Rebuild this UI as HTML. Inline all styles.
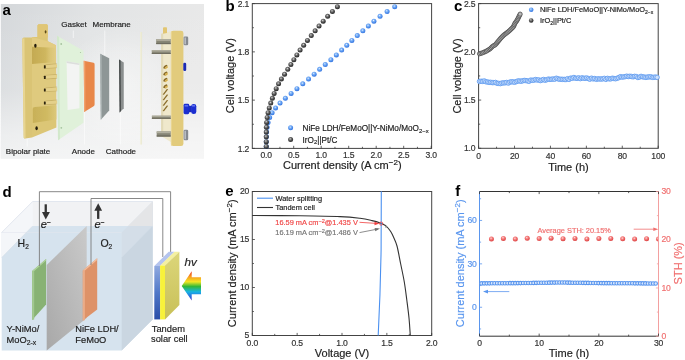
<!DOCTYPE html>
<html><head><meta charset="utf-8"><style>
html,body{margin:0;padding:0;background:#fff;}
body{width:685px;height:360px;overflow:hidden;}
svg{display:block;font-family:"Liberation Sans", sans-serif;will-change:transform;}
</style></head><body>
<svg width="685" height="360" viewBox="0 0 685 360">

<defs>
<clipPath id="clipF"><rect x="479" y="190" width="179" height="147"/></clipPath>
<radialGradient id="gBlue" cx="0.42" cy="0.36" r="0.62">
  <stop offset="0" stop-color="#f0f6ff"/><stop offset="0.25" stop-color="#8cbcf8"/><stop offset="0.6" stop-color="#5a98f0"/><stop offset="1" stop-color="#3676e0"/>
</radialGradient>
<radialGradient id="gGray" cx="0.42" cy="0.36" r="0.62">
  <stop offset="0" stop-color="#e8e8e8"/><stop offset="0.25" stop-color="#8a8a8a"/><stop offset="0.6" stop-color="#4e4e4e"/><stop offset="1" stop-color="#2a2a2a"/>
</radialGradient>
<radialGradient id="gRed" cx="0.42" cy="0.36" r="0.62">
  <stop offset="0" stop-color="#fff0f0"/><stop offset="0.25" stop-color="#f89a9a"/><stop offset="0.6" stop-color="#f06a6a"/><stop offset="1" stop-color="#dc4646"/>
</radialGradient>
<linearGradient id="bgA" x1="0" y1="0" x2="1" y2="0.25">
  <stop offset="0" stop-color="#d4d7da"/><stop offset="0.45" stop-color="#e2e4e5"/><stop offset="1" stop-color="#e9e9e9"/>
</linearGradient>
<radialGradient id="bgR" cx="0.5" cy="0.5" r="0.5">
  <stop offset="0" stop-color="#ffffff" stop-opacity="0.5"/><stop offset="0.6" stop-color="#ffffff" stop-opacity="0.25"/><stop offset="1" stop-color="#ffffff" stop-opacity="0"/>
</radialGradient>
<linearGradient id="bgA2" x1="0" y1="0" x2="0" y2="1">
  <stop offset="0" stop-color="#ffffff" stop-opacity="0"/><stop offset="0.55" stop-color="#ffffff" stop-opacity="0.12"/><stop offset="0.85" stop-color="#ffffff" stop-opacity="0.5"/><stop offset="1" stop-color="#ffffff" stop-opacity="0.6"/>
</linearGradient>
<filter id="soft" x="0" y="0" width="1" height="1"><feGaussianBlur stdDeviation="0.35"/></filter>
<linearGradient id="plUp" x1="0" y1="0" x2="1" y2="0">
  <stop offset="0" stop-color="#c4aa52"/><stop offset="0.55" stop-color="#ceb65e"/><stop offset="0.75" stop-color="#dac474"/><stop offset="1" stop-color="#e2cc84"/>
</linearGradient>
<linearGradient id="plLo" x1="0" y1="0" x2="1" y2="0">
  <stop offset="0" stop-color="#c8b058"/><stop offset="0.6" stop-color="#d0ba62"/><stop offset="1" stop-color="#dcc87a"/>
</linearGradient>
<linearGradient id="memG" x1="1" y1="0" x2="0" y2="1">
  <stop offset="0" stop-color="#cacaca"/><stop offset="1" stop-color="#a8a8a8"/>
</linearGradient>
<linearGradient id="solB" x1="0" y1="0" x2="0" y2="1">
  <stop offset="0" stop-color="#90aae0"/><stop offset="0.5" stop-color="#5078c8"/><stop offset="1" stop-color="#2a4ea8"/>
</linearGradient>
<linearGradient id="solS" x1="0" y1="0" x2="0" y2="1">
  <stop offset="0" stop-color="#dcd67a"/><stop offset="1" stop-color="#c8c058"/>
</linearGradient>
<linearGradient id="rainbow" x1="0" y1="0" x2="0" y2="1">
  <stop offset="0" stop-color="#e82818"/><stop offset="0.18" stop-color="#f89820"/><stop offset="0.36" stop-color="#f2e622"/><stop offset="0.52" stop-color="#30b838"/><stop offset="0.7" stop-color="#18b4e4"/><stop offset="0.86" stop-color="#2a6ee0"/><stop offset="1" stop-color="#4232c0"/>
</linearGradient>
</defs>

<g id="pa" filter="url(#soft)">
<rect x="0.8" y="4" width="203.2" height="154.5" fill="url(#bgA)"/>
<rect x="0.8" y="4" width="203.2" height="154.5" fill="url(#bgA2)"/>
<ellipse cx="122" cy="88" rx="62" ry="60" fill="url(#bgR)"/>
<path d="M22.3,39 Q22.3,37.5 24,37.5 L32,37.5 L32,137.6 L25,138.6 Q23.8,138.6 23.7,137.4 Z" fill="#dac474"/>
<polygon points="22.3,39 24.4,38 25.6,138.4 23.7,137.4" fill="#e8d592"/>
<polygon points="32,37 37.5,37 37.5,25.5 38.5,24.3 47,24.3 47.8,25.5 47.8,41.2 56,45.3 56.4,127.6 32,137.6" fill="#dcc676"/>
<polygon points="32,37 47.8,41.2 56,45.3 56,48 32,46.7" fill="#e3cc82"/>
<polygon points="32,58 56,58 56,105.5 32,107.8" fill="#dfca7e"/>
<polygon points="32,46.7 56,48 56,62 32,64" fill="url(#plUp)"/>
<path d="M32.8,109 Q32.8,107 35,107 L56.4,105.2 L56.4,119.5 L32.8,123 Z" fill="url(#plLo)"/>
<polygon points="37.5,25.5 38.5,24.3 47,24.3 47.8,25.5 47.8,37.5 37.5,37.5" fill="#e0c676"/>
<ellipse cx="45.6" cy="31.8" rx="0.9" ry="1.6" fill="#5a4818"/>
<ellipse cx="35.4" cy="45.8" rx="1.2" ry="2" fill="#241c0a"/>
<ellipse cx="36.6" cy="128.3" rx="1.2" ry="2" fill="#241c0a"/>
<line x1="45.5" y1="64.8" x2="57.5" y2="63.8" stroke="#b49c54" stroke-width="0.5"/>
<line x1="45.5" y1="68.39999999999999" x2="57.5" y2="67.6" stroke="#b49c54" stroke-width="0.5"/>
<polygon points="45.5,65.2 57.5,64.2 57.5,67.2 45.5,68.0" fill="#e4d08a"/>
<rect x="43.9" y="65.2" width="1.8" height="3.2" rx="0.5" fill="#2a200c"/>
<line x1="45.5" y1="75.4" x2="57.5" y2="74.4" stroke="#b49c54" stroke-width="0.5"/>
<line x1="45.5" y1="79.0" x2="57.5" y2="78.2" stroke="#b49c54" stroke-width="0.5"/>
<polygon points="45.5,75.80000000000001 57.5,74.80000000000001 57.5,77.80000000000001 45.5,78.60000000000001" fill="#e4d08a"/>
<rect x="43.9" y="75.80000000000001" width="1.8" height="3.2" rx="0.5" fill="#2a200c"/>
<line x1="45.5" y1="88.0" x2="57.5" y2="87.0" stroke="#b49c54" stroke-width="0.5"/>
<line x1="45.5" y1="91.6" x2="57.5" y2="90.8" stroke="#b49c54" stroke-width="0.5"/>
<polygon points="45.5,88.4 57.5,87.4 57.5,90.4 45.5,91.2" fill="#e4d08a"/>
<rect x="43.9" y="88.4" width="1.8" height="3.2" rx="0.5" fill="#2a200c"/>
<line x1="45.5" y1="101.0" x2="57.5" y2="100.0" stroke="#b49c54" stroke-width="0.5"/>
<line x1="45.5" y1="104.6" x2="57.5" y2="103.8" stroke="#b49c54" stroke-width="0.5"/>
<polygon points="45.5,101.4 57.5,100.4 57.5,103.4 45.5,104.2" fill="#e4d08a"/>
<rect x="43.9" y="101.4" width="1.8" height="3.2" rx="0.5" fill="#2a200c"/>
<polygon points="57,35.8 83.5,50.8 83.5,122.7 58,140.2" fill="#e0f1da"/>
<polygon points="57,35.8 59.2,37 60,139 58,140.2" fill="#d2e8cb"/>
<polygon points="66.6,61.3 79.4,63.5 79.4,108.3 67.6,109.9" fill="#f3f4f3"/>
<polygon points="66.6,61.3 79.4,63.5 79.4,65 66.6,63" fill="#dcdedc"/>
<circle cx="61.2" cy="44" r="0.9" fill="#a6c49e"/>
<circle cx="61.3" cy="127.8" r="0.9" fill="#a6c49e"/>
<circle cx="80.5" cy="52.5" r="0.6" fill="#a6c49e"/>
<path d="M83.75,60.8 L93.6,62.7 Q94.6,63 94.6,64.5 L94.6,104.5 Q94.6,106 93.2,106.6 L84.2,112 Z" fill="#e8874a"/>
<polygon points="83.75,60.8 85.2,61.1 85.4,111.3 84.2,112" fill="#f2a36c"/>
<polygon points="100.2,53.75 109.2,58.3 109.2,110.4 100.8,119.8" fill="#8e9696"/>
<polygon points="100.2,53.75 101.6,54.5 102,118.3 100.8,119.8" fill="#aab2b2"/>
<polygon points="119,59.4 123.75,62.5 123.75,108.3 119.6,112.5" fill="#8a8e8e"/>
<polygon points="119,59.4 120.6,60.4 121,111 119.6,112.5" fill="#4a4e4e"/>
<line x1="141" y1="32" x2="141" y2="144.4" stroke="#f2efd2" stroke-width="1.3"/>
<line x1="141.6" y1="32" x2="141.6" y2="144.4" stroke="#e4e2c4" stroke-width="0.4"/>
<polygon points="161.1,33.8 170.8,31.2 170.8,142 161.1,136" fill="#efe8cc"/>
<polygon points="161.1,33.8 163.2,33.3 163.2,137.3 161.1,136" fill="#e2dab8"/>
<path d="M163,28 Q163,27.3 164,27.3 L166.3,27.3 Q167,27.3 167,28.2 L167,33 L163,33.8 Z" fill="#e2c672"/>
<rect x="170.9" y="30.7" width="12.5" height="115.4" rx="2.4" fill="#e2cb7c"/>
<rect x="170.9" y="31.5" width="1.1" height="114" fill="#e9d592"/>
<path d="M163.2,68.3 Q163.5,65.3 166.8,64.7 L167.6,65.9 Q165,66.3 164.8,68.7 Z" fill="#8a6c2a"/>
<path d="M164.8,68.7 Q165,66.3 167.6,65.9 L167.8,67.7 Q166.2,67.8 166,69.3 Z" fill="#d8b048"/>
<path d="M163.2,75.0 Q163.5,72.0 166.8,71.4 L167.6,72.60000000000001 Q165,73.0 164.8,75.4 Z" fill="#8a6c2a"/>
<path d="M164.8,75.4 Q165,73.0 167.6,72.60000000000001 L167.8,74.4 Q166.2,74.5 166,76.0 Z" fill="#d8b048"/>
<path d="M163.2,81.3 Q163.5,78.3 166.8,77.7 L167.6,78.9 Q165,79.3 164.8,81.7 Z" fill="#8a6c2a"/>
<path d="M164.8,81.7 Q165,79.3 167.6,78.9 L167.8,80.7 Q166.2,80.8 166,82.3 Z" fill="#d8b048"/>
<path d="M163.2,87.8 Q163.5,84.8 166.8,84.2 L167.6,85.4 Q165,85.8 164.8,88.2 Z" fill="#8a6c2a"/>
<path d="M164.8,88.2 Q165,85.8 167.6,85.4 L167.8,87.2 Q166.2,87.3 166,88.8 Z" fill="#d8b048"/>
<polygon points="162.6,94.5 166.8,89.0 168.2,89.3 164,94.8" fill="#8a6c2a"/>
<polygon points="162.6,100 166.8,94.5 168.2,94.8 164,100.3" fill="#8a6c2a"/>
<polygon points="162.6,105.5 166.8,100.0 168.2,100.3 164,105.8" fill="#8a6c2a"/>
<polygon points="162.6,111 166.8,105.5 168.2,105.8 164,111.3" fill="#8a6c2a"/>
<rect x="156.2" y="39.1" width="14.5" height="5.0" fill="#878676"/>
<rect x="156.2" y="39.1" width="14.5" height="1.75" fill="#b2b0a0"/>
<rect x="156.2" y="42.85" width="14.5" height="1.25" fill="#6e6c5e"/>
<rect x="151.8" y="50.2" width="18.899999999999977" height="3.8" fill="#878676"/>
<rect x="151.8" y="50.2" width="18.899999999999977" height="1.33" fill="#b2b0a0"/>
<rect x="151.8" y="53.05" width="18.899999999999977" height="0.95" fill="#6e6c5e"/>
<rect x="151.9" y="115.7" width="18.799999999999983" height="3.2" fill="#878676"/>
<rect x="151.9" y="115.7" width="18.799999999999983" height="1.12" fill="#b2b0a0"/>
<rect x="151.9" y="118.10" width="18.799999999999983" height="0.80" fill="#6e6c5e"/>
<rect x="156.7" y="131.4" width="14.0" height="5.2" fill="#878676"/>
<rect x="156.7" y="131.4" width="14.0" height="1.82" fill="#b2b0a0"/>
<rect x="156.7" y="135.30" width="14.0" height="1.30" fill="#6e6c5e"/>
<rect x="183.6" y="36.5" width="4.6" height="8.700000000000003" rx="1.3" fill="#868a90"/>
<rect x="184.4" y="37.5" width="1.6" height="6.700000000000003" fill="#b8bcc2"/>
<rect x="183.6" y="129.8" width="4.6" height="10.399999999999977" rx="1.3" fill="#868a90"/>
<rect x="184.4" y="130.8" width="1.6" height="8.399999999999977" fill="#b8bcc2"/>
<rect x="183.3" y="62.8" width="2.9" height="8.2" rx="1.3" fill="#1c2cb4"/>
<rect x="183.6" y="103.75" width="5.6" height="10.45" rx="1.4" fill="#1a2fd0"/>
<rect x="188.8" y="105.8" width="3" height="6.4" fill="#1a2cc0"/>
<rect x="191.2" y="103.9" width="5.1" height="10.2" rx="2.4" fill="#1a2fd0"/>
<rect x="184.6" y="105" width="3.5" height="1.6" fill="#5a6cf0"/>
<rect x="192" y="105" width="3" height="1.6" fill="#5a6cf0"/>
<line x1="73.3" y1="30.5" x2="73.3" y2="38" stroke="#ffffff" stroke-width="0.6"/>
<line x1="104.8" y1="30.5" x2="104.8" y2="55" stroke="#ffffff" stroke-width="0.6"/>
<line x1="27.2" y1="139" x2="27.2" y2="146.5" stroke="#ffffff" stroke-width="0.6"/>
<line x1="84.4" y1="112" x2="84.4" y2="144.5" stroke="#ffffff" stroke-width="0.6"/>
<line x1="120.3" y1="113" x2="120.3" y2="144.5" stroke="#ffffff" stroke-width="0.6"/>
</g><g>
<text x="61.3" y="27.2" font-size="8" fill="#222" text-anchor="start" font-weight="normal" stroke="#222" stroke-width="0.18"  style="">Gasket</text>
<text x="92.5" y="27.2" font-size="8" fill="#222" text-anchor="start" font-weight="normal" stroke="#222" stroke-width="0.18"  style="">Membrane</text>
<text x="5.8" y="153.8" font-size="8" fill="#222" text-anchor="start" font-weight="normal" stroke="#222" stroke-width="0.18"  style="">Bipolar plate</text>
<text x="71.8" y="153.8" font-size="8" fill="#222" text-anchor="start" font-weight="normal" stroke="#222" stroke-width="0.18"  style="">Anode</text>
<text x="105.8" y="153.8" font-size="8" fill="#222" text-anchor="start" font-weight="normal" stroke="#222" stroke-width="0.18"  style="">Cathode</text>
</g>
<rect x="252.3" y="3.6" width="179.3" height="144.8" fill="none" stroke="#444" stroke-width="1"/>
<line x1="266.20" y1="148.4" x2="266.20" y2="145.8" stroke="#3a3a3a" stroke-width="0.8"/>
<line x1="279.95" y1="148.4" x2="279.95" y2="146.8" stroke="#3a3a3a" stroke-width="0.8"/>
<line x1="293.70" y1="148.4" x2="293.70" y2="145.8" stroke="#3a3a3a" stroke-width="0.8"/>
<line x1="307.45" y1="148.4" x2="307.45" y2="146.8" stroke="#3a3a3a" stroke-width="0.8"/>
<line x1="321.20" y1="148.4" x2="321.20" y2="145.8" stroke="#3a3a3a" stroke-width="0.8"/>
<line x1="334.95" y1="148.4" x2="334.95" y2="146.8" stroke="#3a3a3a" stroke-width="0.8"/>
<line x1="348.70" y1="148.4" x2="348.70" y2="145.8" stroke="#3a3a3a" stroke-width="0.8"/>
<line x1="362.45" y1="148.4" x2="362.45" y2="146.8" stroke="#3a3a3a" stroke-width="0.8"/>
<line x1="376.20" y1="148.4" x2="376.20" y2="145.8" stroke="#3a3a3a" stroke-width="0.8"/>
<line x1="389.95" y1="148.4" x2="389.95" y2="146.8" stroke="#3a3a3a" stroke-width="0.8"/>
<line x1="403.70" y1="148.4" x2="403.70" y2="145.8" stroke="#3a3a3a" stroke-width="0.8"/>
<line x1="417.45" y1="148.4" x2="417.45" y2="146.8" stroke="#3a3a3a" stroke-width="0.8"/>
<line x1="431.20" y1="148.4" x2="431.20" y2="145.8" stroke="#3a3a3a" stroke-width="0.8"/>
<line x1="252.3" y1="148.40" x2="254.9" y2="148.40" stroke="#3a3a3a" stroke-width="0.8"/>
<line x1="252.3" y1="124.27" x2="253.9" y2="124.27" stroke="#3a3a3a" stroke-width="0.8"/>
<line x1="252.3" y1="100.13" x2="254.9" y2="100.13" stroke="#3a3a3a" stroke-width="0.8"/>
<line x1="252.3" y1="76.00" x2="253.9" y2="76.00" stroke="#3a3a3a" stroke-width="0.8"/>
<line x1="252.3" y1="51.87" x2="254.9" y2="51.87" stroke="#3a3a3a" stroke-width="0.8"/>
<line x1="252.3" y1="27.73" x2="253.9" y2="27.73" stroke="#3a3a3a" stroke-width="0.8"/>
<line x1="252.3" y1="3.60" x2="254.9" y2="3.60" stroke="#3a3a3a" stroke-width="0.8"/>
<text x="266.20" y="158" font-size="8.6" fill="#333" text-anchor="middle" font-weight="normal" stroke="#333" stroke-width="0.18"  style="letter-spacing:-0.2px">0.0</text>
<text x="293.70" y="158" font-size="8.6" fill="#333" text-anchor="middle" font-weight="normal" stroke="#333" stroke-width="0.18"  style="letter-spacing:-0.2px">0.5</text>
<text x="321.20" y="158" font-size="8.6" fill="#333" text-anchor="middle" font-weight="normal" stroke="#333" stroke-width="0.18"  style="letter-spacing:-0.2px">1.0</text>
<text x="348.70" y="158" font-size="8.6" fill="#333" text-anchor="middle" font-weight="normal" stroke="#333" stroke-width="0.18"  style="letter-spacing:-0.2px">1.5</text>
<text x="376.20" y="158" font-size="8.6" fill="#333" text-anchor="middle" font-weight="normal" stroke="#333" stroke-width="0.18"  style="letter-spacing:-0.2px">2.0</text>
<text x="403.70" y="158" font-size="8.6" fill="#333" text-anchor="middle" font-weight="normal" stroke="#333" stroke-width="0.18"  style="letter-spacing:-0.2px">2.5</text>
<text x="431.20" y="158" font-size="8.6" fill="#333" text-anchor="middle" font-weight="normal" stroke="#333" stroke-width="0.18"  style="letter-spacing:-0.2px">3.0</text>
<text x="249.2" y="151.50" font-size="8.6" fill="#333" text-anchor="end" font-weight="normal" stroke="#333" stroke-width="0.18"  style="letter-spacing:-0.2px">1.2</text>
<text x="249.2" y="103.23" font-size="8.6" fill="#333" text-anchor="end" font-weight="normal" stroke="#333" stroke-width="0.18"  style="letter-spacing:-0.2px">1.5</text>
<text x="249.2" y="54.97" font-size="8.6" fill="#333" text-anchor="end" font-weight="normal" stroke="#333" stroke-width="0.18"  style="letter-spacing:-0.2px">1.8</text>
<text x="249.2" y="6.70" font-size="8.6" fill="#333" text-anchor="end" font-weight="normal" stroke="#333" stroke-width="0.18"  style="letter-spacing:-0.2px">2.1</text>
<text x="342.3" y="169.4" font-size="11" fill="#222" text-anchor="middle" font-weight="normal" stroke="#222" stroke-width="0.18"  style="">Current density (A cm<tspan dy="-4.3" font-size="8">−2</tspan><tspan dy="4.3">)</tspan></text>
<g transform="translate(234.3,75.6) rotate(-90)"><text x="0" y="0" font-size="11" fill="#222" text-anchor="middle" font-weight="normal" stroke="#222" stroke-width="0.18"  style="">Cell voltage (V)</text></g>
<circle cx="394.70" cy="6.70" r="2.5" fill="url(#gBlue)"/>
<circle cx="387.10" cy="11.52" r="2.5" fill="url(#gBlue)"/>
<circle cx="380.06" cy="16.34" r="2.5" fill="url(#gBlue)"/>
<circle cx="373.93" cy="21.16" r="2.5" fill="url(#gBlue)"/>
<circle cx="368.37" cy="25.98" r="2.5" fill="url(#gBlue)"/>
<circle cx="362.85" cy="30.80" r="2.5" fill="url(#gBlue)"/>
<circle cx="357.26" cy="35.62" r="2.5" fill="url(#gBlue)"/>
<circle cx="351.87" cy="40.44" r="2.5" fill="url(#gBlue)"/>
<circle cx="346.76" cy="45.26" r="2.5" fill="url(#gBlue)"/>
<circle cx="341.65" cy="50.08" r="2.5" fill="url(#gBlue)"/>
<circle cx="336.34" cy="54.90" r="2.5" fill="url(#gBlue)"/>
<circle cx="330.88" cy="59.72" r="2.5" fill="url(#gBlue)"/>
<circle cx="325.26" cy="64.54" r="2.5" fill="url(#gBlue)"/>
<circle cx="319.66" cy="69.36" r="2.5" fill="url(#gBlue)"/>
<circle cx="314.16" cy="74.18" r="2.5" fill="url(#gBlue)"/>
<circle cx="308.55" cy="79.00" r="2.5" fill="url(#gBlue)"/>
<circle cx="302.76" cy="83.82" r="2.5" fill="url(#gBlue)"/>
<circle cx="296.94" cy="88.64" r="2.5" fill="url(#gBlue)"/>
<circle cx="291.12" cy="93.46" r="2.5" fill="url(#gBlue)"/>
<circle cx="285.35" cy="98.28" r="2.5" fill="url(#gBlue)"/>
<circle cx="280.04" cy="103.10" r="2.5" fill="url(#gBlue)"/>
<circle cx="275.58" cy="107.92" r="2.5" fill="url(#gBlue)"/>
<circle cx="272.11" cy="112.74" r="2.5" fill="url(#gBlue)"/>
<circle cx="269.63" cy="117.56" r="2.5" fill="url(#gBlue)"/>
<circle cx="268.05" cy="122.38" r="2.5" fill="url(#gBlue)"/>
<circle cx="267.13" cy="127.20" r="2.5" fill="url(#gBlue)"/>
<circle cx="266.62" cy="132.02" r="2.5" fill="url(#gBlue)"/>
<circle cx="266.38" cy="136.84" r="2.5" fill="url(#gBlue)"/>
<circle cx="266.27" cy="141.66" r="2.5" fill="url(#gBlue)"/>
<circle cx="266.21" cy="146.48" r="2.5" fill="url(#gBlue)"/>
<circle cx="337.40" cy="6.70" r="2.5" fill="url(#gGray)"/>
<circle cx="332.41" cy="11.52" r="2.5" fill="url(#gGray)"/>
<circle cx="327.66" cy="16.34" r="2.5" fill="url(#gGray)"/>
<circle cx="323.19" cy="21.16" r="2.5" fill="url(#gGray)"/>
<circle cx="319.05" cy="25.98" r="2.5" fill="url(#gGray)"/>
<circle cx="315.14" cy="30.80" r="2.5" fill="url(#gGray)"/>
<circle cx="311.27" cy="35.62" r="2.5" fill="url(#gGray)"/>
<circle cx="307.43" cy="40.44" r="2.5" fill="url(#gGray)"/>
<circle cx="303.68" cy="45.26" r="2.5" fill="url(#gGray)"/>
<circle cx="300.09" cy="50.08" r="2.5" fill="url(#gGray)"/>
<circle cx="296.85" cy="54.90" r="2.5" fill="url(#gGray)"/>
<circle cx="293.87" cy="59.72" r="2.5" fill="url(#gGray)"/>
<circle cx="290.87" cy="64.54" r="2.5" fill="url(#gGray)"/>
<circle cx="287.76" cy="69.36" r="2.5" fill="url(#gGray)"/>
<circle cx="284.54" cy="74.18" r="2.5" fill="url(#gGray)"/>
<circle cx="281.38" cy="79.00" r="2.5" fill="url(#gGray)"/>
<circle cx="278.57" cy="83.82" r="2.5" fill="url(#gGray)"/>
<circle cx="276.20" cy="88.64" r="2.5" fill="url(#gGray)"/>
<circle cx="274.15" cy="93.46" r="2.5" fill="url(#gGray)"/>
<circle cx="272.37" cy="98.28" r="2.5" fill="url(#gGray)"/>
<circle cx="270.74" cy="103.10" r="2.5" fill="url(#gGray)"/>
<circle cx="269.26" cy="107.92" r="2.5" fill="url(#gGray)"/>
<circle cx="268.05" cy="112.74" r="2.5" fill="url(#gGray)"/>
<circle cx="267.16" cy="117.56" r="2.5" fill="url(#gGray)"/>
<circle cx="266.61" cy="122.38" r="2.5" fill="url(#gGray)"/>
<circle cx="266.35" cy="127.20" r="2.5" fill="url(#gGray)"/>
<circle cx="266.26" cy="132.02" r="2.5" fill="url(#gGray)"/>
<circle cx="266.25" cy="136.84" r="2.5" fill="url(#gGray)"/>
<circle cx="266.25" cy="141.66" r="2.5" fill="url(#gGray)"/>
<circle cx="266.25" cy="146.48" r="2.5" fill="url(#gGray)"/>
<circle cx="290.6" cy="127.8" r="2.5" fill="url(#gBlue)"/>
<circle cx="290.6" cy="139.6" r="2.5" fill="url(#gGray)"/>
<text x="302.6" y="130.8" font-size="8.2" fill="#222" text-anchor="start" font-weight="normal" stroke="#222" stroke-width="0.18"  style="">NiFe LDH/FeMoO||Y-NiMo/MoO<tspan dy="1.8" font-size="5.9">2−x</tspan></text>
<text x="302.6" y="142.5" font-size="8.2" fill="#222" text-anchor="start" font-weight="normal" stroke="#222" stroke-width="0.18"  style="">IrO<tspan dy="1.8" font-size="5.9">2</tspan><tspan dy="-1.8">||Pt/C</tspan></text>
<rect x="478.6" y="3.6" width="179.60000000000002" height="144.70000000000002" fill="none" stroke="#444" stroke-width="1"/>
<line x1="478.60" y1="148.3" x2="478.60" y2="145.70000000000002" stroke="#3a3a3a" stroke-width="0.8"/>
<line x1="496.56" y1="148.3" x2="496.56" y2="146.70000000000002" stroke="#3a3a3a" stroke-width="0.8"/>
<line x1="514.52" y1="148.3" x2="514.52" y2="145.70000000000002" stroke="#3a3a3a" stroke-width="0.8"/>
<line x1="532.48" y1="148.3" x2="532.48" y2="146.70000000000002" stroke="#3a3a3a" stroke-width="0.8"/>
<line x1="550.44" y1="148.3" x2="550.44" y2="145.70000000000002" stroke="#3a3a3a" stroke-width="0.8"/>
<line x1="568.40" y1="148.3" x2="568.40" y2="146.70000000000002" stroke="#3a3a3a" stroke-width="0.8"/>
<line x1="586.36" y1="148.3" x2="586.36" y2="145.70000000000002" stroke="#3a3a3a" stroke-width="0.8"/>
<line x1="604.32" y1="148.3" x2="604.32" y2="146.70000000000002" stroke="#3a3a3a" stroke-width="0.8"/>
<line x1="622.28" y1="148.3" x2="622.28" y2="145.70000000000002" stroke="#3a3a3a" stroke-width="0.8"/>
<line x1="640.24" y1="148.3" x2="640.24" y2="146.70000000000002" stroke="#3a3a3a" stroke-width="0.8"/>
<line x1="658.20" y1="148.3" x2="658.20" y2="145.70000000000002" stroke="#3a3a3a" stroke-width="0.8"/>
<line x1="478.6" y1="148.30" x2="481.20000000000005" y2="148.30" stroke="#3a3a3a" stroke-width="0.8"/>
<line x1="478.6" y1="124.18" x2="480.20000000000005" y2="124.18" stroke="#3a3a3a" stroke-width="0.8"/>
<line x1="478.6" y1="100.07" x2="481.20000000000005" y2="100.07" stroke="#3a3a3a" stroke-width="0.8"/>
<line x1="478.6" y1="75.95" x2="480.20000000000005" y2="75.95" stroke="#3a3a3a" stroke-width="0.8"/>
<line x1="478.6" y1="51.83" x2="481.20000000000005" y2="51.83" stroke="#3a3a3a" stroke-width="0.8"/>
<line x1="478.6" y1="27.72" x2="480.20000000000005" y2="27.72" stroke="#3a3a3a" stroke-width="0.8"/>
<line x1="478.6" y1="3.60" x2="481.20000000000005" y2="3.60" stroke="#3a3a3a" stroke-width="0.8"/>
<text x="478.60" y="158.6" font-size="8.6" fill="#333" text-anchor="middle" font-weight="normal" stroke="#333" stroke-width="0.18"  style="letter-spacing:-0.2px">0</text>
<text x="514.52" y="158.6" font-size="8.6" fill="#333" text-anchor="middle" font-weight="normal" stroke="#333" stroke-width="0.18"  style="letter-spacing:-0.2px">20</text>
<text x="550.44" y="158.6" font-size="8.6" fill="#333" text-anchor="middle" font-weight="normal" stroke="#333" stroke-width="0.18"  style="letter-spacing:-0.2px">40</text>
<text x="586.36" y="158.6" font-size="8.6" fill="#333" text-anchor="middle" font-weight="normal" stroke="#333" stroke-width="0.18"  style="letter-spacing:-0.2px">60</text>
<text x="622.28" y="158.6" font-size="8.6" fill="#333" text-anchor="middle" font-weight="normal" stroke="#333" stroke-width="0.18"  style="letter-spacing:-0.2px">80</text>
<text x="658.20" y="158.6" font-size="8.6" fill="#333" text-anchor="middle" font-weight="normal" stroke="#333" stroke-width="0.18"  style="letter-spacing:-0.2px">100</text>
<text x="475.3" y="151.40" font-size="8.6" fill="#333" text-anchor="end" font-weight="normal" stroke="#333" stroke-width="0.18"  style="letter-spacing:-0.2px">1.0</text>
<text x="475.3" y="103.17" font-size="8.6" fill="#333" text-anchor="end" font-weight="normal" stroke="#333" stroke-width="0.18"  style="letter-spacing:-0.2px">1.5</text>
<text x="475.3" y="54.93" font-size="8.6" fill="#333" text-anchor="end" font-weight="normal" stroke="#333" stroke-width="0.18"  style="letter-spacing:-0.2px">2.0</text>
<text x="475.3" y="6.70" font-size="8.6" fill="#333" text-anchor="end" font-weight="normal" stroke="#333" stroke-width="0.18"  style="letter-spacing:-0.2px">2.5</text>
<text x="568.4" y="170.6" font-size="11" fill="#222" text-anchor="middle" font-weight="normal" stroke="#222" stroke-width="0.18"  style="">Time (h)</text>
<g transform="translate(460.5,76) rotate(-90)"><text x="0" y="0" font-size="11" fill="#222" text-anchor="middle" font-weight="normal" stroke="#222" stroke-width="0.18"  style="">Cell voltage (V)</text></g>
<circle cx="479.50" cy="81.44" r="2.25" fill="#cde0fb" stroke="#649ef0" stroke-width="0.9"/>
<circle cx="481.10" cy="81.23" r="2.25" fill="#cde0fb" stroke="#649ef0" stroke-width="0.9"/>
<circle cx="482.70" cy="81.38" r="2.25" fill="#cde0fb" stroke="#649ef0" stroke-width="0.9"/>
<circle cx="484.30" cy="80.96" r="2.25" fill="#cde0fb" stroke="#649ef0" stroke-width="0.9"/>
<circle cx="485.90" cy="81.77" r="2.25" fill="#cde0fb" stroke="#649ef0" stroke-width="0.9"/>
<circle cx="487.50" cy="82.01" r="2.25" fill="#cde0fb" stroke="#649ef0" stroke-width="0.9"/>
<circle cx="489.10" cy="82.37" r="2.25" fill="#cde0fb" stroke="#649ef0" stroke-width="0.9"/>
<circle cx="490.70" cy="82.30" r="2.25" fill="#cde0fb" stroke="#649ef0" stroke-width="0.9"/>
<circle cx="492.30" cy="82.62" r="2.25" fill="#cde0fb" stroke="#649ef0" stroke-width="0.9"/>
<circle cx="493.90" cy="82.59" r="2.25" fill="#cde0fb" stroke="#649ef0" stroke-width="0.9"/>
<circle cx="495.50" cy="82.41" r="2.25" fill="#cde0fb" stroke="#649ef0" stroke-width="0.9"/>
<circle cx="497.10" cy="83.30" r="2.25" fill="#cde0fb" stroke="#649ef0" stroke-width="0.9"/>
<circle cx="498.70" cy="83.35" r="2.25" fill="#cde0fb" stroke="#649ef0" stroke-width="0.9"/>
<circle cx="500.30" cy="83.63" r="2.25" fill="#cde0fb" stroke="#649ef0" stroke-width="0.9"/>
<circle cx="501.90" cy="83.04" r="2.25" fill="#cde0fb" stroke="#649ef0" stroke-width="0.9"/>
<circle cx="503.50" cy="82.88" r="2.25" fill="#cde0fb" stroke="#649ef0" stroke-width="0.9"/>
<circle cx="505.10" cy="82.82" r="2.25" fill="#cde0fb" stroke="#649ef0" stroke-width="0.9"/>
<circle cx="506.70" cy="82.44" r="2.25" fill="#cde0fb" stroke="#649ef0" stroke-width="0.9"/>
<circle cx="508.30" cy="83.07" r="2.25" fill="#cde0fb" stroke="#649ef0" stroke-width="0.9"/>
<circle cx="509.90" cy="82.09" r="2.25" fill="#cde0fb" stroke="#649ef0" stroke-width="0.9"/>
<circle cx="511.50" cy="81.81" r="2.25" fill="#cde0fb" stroke="#649ef0" stroke-width="0.9"/>
<circle cx="513.10" cy="81.89" r="2.25" fill="#cde0fb" stroke="#649ef0" stroke-width="0.9"/>
<circle cx="514.70" cy="82.23" r="2.25" fill="#cde0fb" stroke="#649ef0" stroke-width="0.9"/>
<circle cx="516.30" cy="81.59" r="2.25" fill="#cde0fb" stroke="#649ef0" stroke-width="0.9"/>
<circle cx="517.90" cy="80.99" r="2.25" fill="#cde0fb" stroke="#649ef0" stroke-width="0.9"/>
<circle cx="519.50" cy="80.93" r="2.25" fill="#cde0fb" stroke="#649ef0" stroke-width="0.9"/>
<circle cx="521.10" cy="81.24" r="2.25" fill="#cde0fb" stroke="#649ef0" stroke-width="0.9"/>
<circle cx="522.70" cy="80.80" r="2.25" fill="#cde0fb" stroke="#649ef0" stroke-width="0.9"/>
<circle cx="524.30" cy="80.43" r="2.25" fill="#cde0fb" stroke="#649ef0" stroke-width="0.9"/>
<circle cx="525.90" cy="80.58" r="2.25" fill="#cde0fb" stroke="#649ef0" stroke-width="0.9"/>
<circle cx="527.50" cy="80.88" r="2.25" fill="#cde0fb" stroke="#649ef0" stroke-width="0.9"/>
<circle cx="529.10" cy="81.28" r="2.25" fill="#cde0fb" stroke="#649ef0" stroke-width="0.9"/>
<circle cx="530.70" cy="80.12" r="2.25" fill="#cde0fb" stroke="#649ef0" stroke-width="0.9"/>
<circle cx="532.30" cy="80.29" r="2.25" fill="#cde0fb" stroke="#649ef0" stroke-width="0.9"/>
<circle cx="533.90" cy="80.18" r="2.25" fill="#cde0fb" stroke="#649ef0" stroke-width="0.9"/>
<circle cx="535.50" cy="79.55" r="2.25" fill="#cde0fb" stroke="#649ef0" stroke-width="0.9"/>
<circle cx="537.10" cy="80.00" r="2.25" fill="#cde0fb" stroke="#649ef0" stroke-width="0.9"/>
<circle cx="538.70" cy="79.90" r="2.25" fill="#cde0fb" stroke="#649ef0" stroke-width="0.9"/>
<circle cx="540.30" cy="80.59" r="2.25" fill="#cde0fb" stroke="#649ef0" stroke-width="0.9"/>
<circle cx="541.90" cy="80.08" r="2.25" fill="#cde0fb" stroke="#649ef0" stroke-width="0.9"/>
<circle cx="543.50" cy="79.49" r="2.25" fill="#cde0fb" stroke="#649ef0" stroke-width="0.9"/>
<circle cx="545.10" cy="80.22" r="2.25" fill="#cde0fb" stroke="#649ef0" stroke-width="0.9"/>
<circle cx="546.70" cy="79.73" r="2.25" fill="#cde0fb" stroke="#649ef0" stroke-width="0.9"/>
<circle cx="548.30" cy="79.11" r="2.25" fill="#cde0fb" stroke="#649ef0" stroke-width="0.9"/>
<circle cx="549.90" cy="79.38" r="2.25" fill="#cde0fb" stroke="#649ef0" stroke-width="0.9"/>
<circle cx="551.50" cy="79.24" r="2.25" fill="#cde0fb" stroke="#649ef0" stroke-width="0.9"/>
<circle cx="553.10" cy="79.01" r="2.25" fill="#cde0fb" stroke="#649ef0" stroke-width="0.9"/>
<circle cx="554.70" cy="79.19" r="2.25" fill="#cde0fb" stroke="#649ef0" stroke-width="0.9"/>
<circle cx="556.30" cy="78.26" r="2.25" fill="#cde0fb" stroke="#649ef0" stroke-width="0.9"/>
<circle cx="557.90" cy="78.81" r="2.25" fill="#cde0fb" stroke="#649ef0" stroke-width="0.9"/>
<circle cx="559.50" cy="79.28" r="2.25" fill="#cde0fb" stroke="#649ef0" stroke-width="0.9"/>
<circle cx="561.10" cy="79.25" r="2.25" fill="#cde0fb" stroke="#649ef0" stroke-width="0.9"/>
<circle cx="562.70" cy="79.37" r="2.25" fill="#cde0fb" stroke="#649ef0" stroke-width="0.9"/>
<circle cx="564.30" cy="79.41" r="2.25" fill="#cde0fb" stroke="#649ef0" stroke-width="0.9"/>
<circle cx="565.90" cy="79.56" r="2.25" fill="#cde0fb" stroke="#649ef0" stroke-width="0.9"/>
<circle cx="567.50" cy="78.68" r="2.25" fill="#cde0fb" stroke="#649ef0" stroke-width="0.9"/>
<circle cx="569.10" cy="79.38" r="2.25" fill="#cde0fb" stroke="#649ef0" stroke-width="0.9"/>
<circle cx="570.70" cy="78.13" r="2.25" fill="#cde0fb" stroke="#649ef0" stroke-width="0.9"/>
<circle cx="572.30" cy="78.28" r="2.25" fill="#cde0fb" stroke="#649ef0" stroke-width="0.9"/>
<circle cx="573.90" cy="77.52" r="2.25" fill="#cde0fb" stroke="#649ef0" stroke-width="0.9"/>
<circle cx="575.50" cy="78.26" r="2.25" fill="#cde0fb" stroke="#649ef0" stroke-width="0.9"/>
<circle cx="577.10" cy="78.32" r="2.25" fill="#cde0fb" stroke="#649ef0" stroke-width="0.9"/>
<circle cx="578.70" cy="77.87" r="2.25" fill="#cde0fb" stroke="#649ef0" stroke-width="0.9"/>
<circle cx="580.30" cy="78.64" r="2.25" fill="#cde0fb" stroke="#649ef0" stroke-width="0.9"/>
<circle cx="581.90" cy="77.86" r="2.25" fill="#cde0fb" stroke="#649ef0" stroke-width="0.9"/>
<circle cx="583.50" cy="78.23" r="2.25" fill="#cde0fb" stroke="#649ef0" stroke-width="0.9"/>
<circle cx="585.10" cy="78.31" r="2.25" fill="#cde0fb" stroke="#649ef0" stroke-width="0.9"/>
<circle cx="586.70" cy="77.96" r="2.25" fill="#cde0fb" stroke="#649ef0" stroke-width="0.9"/>
<circle cx="588.30" cy="78.57" r="2.25" fill="#cde0fb" stroke="#649ef0" stroke-width="0.9"/>
<circle cx="589.90" cy="79.17" r="2.25" fill="#cde0fb" stroke="#649ef0" stroke-width="0.9"/>
<circle cx="591.50" cy="78.18" r="2.25" fill="#cde0fb" stroke="#649ef0" stroke-width="0.9"/>
<circle cx="593.10" cy="78.89" r="2.25" fill="#cde0fb" stroke="#649ef0" stroke-width="0.9"/>
<circle cx="594.70" cy="78.56" r="2.25" fill="#cde0fb" stroke="#649ef0" stroke-width="0.9"/>
<circle cx="596.30" cy="79.27" r="2.25" fill="#cde0fb" stroke="#649ef0" stroke-width="0.9"/>
<circle cx="597.90" cy="78.86" r="2.25" fill="#cde0fb" stroke="#649ef0" stroke-width="0.9"/>
<circle cx="599.50" cy="78.97" r="2.25" fill="#cde0fb" stroke="#649ef0" stroke-width="0.9"/>
<circle cx="601.10" cy="78.99" r="2.25" fill="#cde0fb" stroke="#649ef0" stroke-width="0.9"/>
<circle cx="602.70" cy="78.89" r="2.25" fill="#cde0fb" stroke="#649ef0" stroke-width="0.9"/>
<circle cx="604.30" cy="78.36" r="2.25" fill="#cde0fb" stroke="#649ef0" stroke-width="0.9"/>
<circle cx="605.90" cy="79.37" r="2.25" fill="#cde0fb" stroke="#649ef0" stroke-width="0.9"/>
<circle cx="607.50" cy="78.36" r="2.25" fill="#cde0fb" stroke="#649ef0" stroke-width="0.9"/>
<circle cx="609.10" cy="78.83" r="2.25" fill="#cde0fb" stroke="#649ef0" stroke-width="0.9"/>
<circle cx="610.70" cy="78.86" r="2.25" fill="#cde0fb" stroke="#649ef0" stroke-width="0.9"/>
<circle cx="612.30" cy="78.25" r="2.25" fill="#cde0fb" stroke="#649ef0" stroke-width="0.9"/>
<circle cx="613.90" cy="78.49" r="2.25" fill="#cde0fb" stroke="#649ef0" stroke-width="0.9"/>
<circle cx="615.50" cy="78.75" r="2.25" fill="#cde0fb" stroke="#649ef0" stroke-width="0.9"/>
<circle cx="617.10" cy="78.23" r="2.25" fill="#cde0fb" stroke="#649ef0" stroke-width="0.9"/>
<circle cx="618.70" cy="77.70" r="2.25" fill="#cde0fb" stroke="#649ef0" stroke-width="0.9"/>
<circle cx="620.30" cy="76.70" r="2.25" fill="#cde0fb" stroke="#649ef0" stroke-width="0.9"/>
<circle cx="621.90" cy="77.08" r="2.25" fill="#cde0fb" stroke="#649ef0" stroke-width="0.9"/>
<circle cx="623.50" cy="76.92" r="2.25" fill="#cde0fb" stroke="#649ef0" stroke-width="0.9"/>
<circle cx="625.10" cy="76.65" r="2.25" fill="#cde0fb" stroke="#649ef0" stroke-width="0.9"/>
<circle cx="626.70" cy="76.19" r="2.25" fill="#cde0fb" stroke="#649ef0" stroke-width="0.9"/>
<circle cx="628.30" cy="76.56" r="2.25" fill="#cde0fb" stroke="#649ef0" stroke-width="0.9"/>
<circle cx="629.90" cy="76.28" r="2.25" fill="#cde0fb" stroke="#649ef0" stroke-width="0.9"/>
<circle cx="631.50" cy="76.49" r="2.25" fill="#cde0fb" stroke="#649ef0" stroke-width="0.9"/>
<circle cx="633.10" cy="76.82" r="2.25" fill="#cde0fb" stroke="#649ef0" stroke-width="0.9"/>
<circle cx="634.70" cy="76.33" r="2.25" fill="#cde0fb" stroke="#649ef0" stroke-width="0.9"/>
<circle cx="636.30" cy="76.58" r="2.25" fill="#cde0fb" stroke="#649ef0" stroke-width="0.9"/>
<circle cx="637.90" cy="77.49" r="2.25" fill="#cde0fb" stroke="#649ef0" stroke-width="0.9"/>
<circle cx="639.50" cy="77.09" r="2.25" fill="#cde0fb" stroke="#649ef0" stroke-width="0.9"/>
<circle cx="641.10" cy="76.38" r="2.25" fill="#cde0fb" stroke="#649ef0" stroke-width="0.9"/>
<circle cx="642.70" cy="76.84" r="2.25" fill="#cde0fb" stroke="#649ef0" stroke-width="0.9"/>
<circle cx="644.30" cy="77.11" r="2.25" fill="#cde0fb" stroke="#649ef0" stroke-width="0.9"/>
<circle cx="645.90" cy="77.39" r="2.25" fill="#cde0fb" stroke="#649ef0" stroke-width="0.9"/>
<circle cx="647.50" cy="77.05" r="2.25" fill="#cde0fb" stroke="#649ef0" stroke-width="0.9"/>
<circle cx="649.10" cy="76.86" r="2.25" fill="#cde0fb" stroke="#649ef0" stroke-width="0.9"/>
<circle cx="650.70" cy="76.83" r="2.25" fill="#cde0fb" stroke="#649ef0" stroke-width="0.9"/>
<circle cx="652.30" cy="77.35" r="2.25" fill="#cde0fb" stroke="#649ef0" stroke-width="0.9"/>
<circle cx="653.90" cy="77.28" r="2.25" fill="#cde0fb" stroke="#649ef0" stroke-width="0.9"/>
<circle cx="655.50" cy="77.07" r="2.25" fill="#cde0fb" stroke="#649ef0" stroke-width="0.9"/>
<circle cx="657.10" cy="77.34" r="2.25" fill="#cde0fb" stroke="#649ef0" stroke-width="0.9"/>
<circle cx="479.50" cy="53.80" r="2.1" fill="#b8b8b8" stroke="#505050" stroke-width="0.85"/>
<circle cx="480.93" cy="53.34" r="2.1" fill="#b8b8b8" stroke="#505050" stroke-width="0.85"/>
<circle cx="482.35" cy="52.88" r="2.1" fill="#b8b8b8" stroke="#505050" stroke-width="0.85"/>
<circle cx="483.74" cy="52.31" r="2.1" fill="#b8b8b8" stroke="#505050" stroke-width="0.85"/>
<circle cx="485.11" cy="51.69" r="2.1" fill="#b8b8b8" stroke="#505050" stroke-width="0.85"/>
<circle cx="486.47" cy="51.06" r="2.1" fill="#b8b8b8" stroke="#505050" stroke-width="0.85"/>
<circle cx="487.75" cy="50.29" r="2.1" fill="#b8b8b8" stroke="#505050" stroke-width="0.85"/>
<circle cx="489.04" cy="49.52" r="2.1" fill="#b8b8b8" stroke="#505050" stroke-width="0.85"/>
<circle cx="490.25" cy="48.65" r="2.1" fill="#b8b8b8" stroke="#505050" stroke-width="0.85"/>
<circle cx="491.31" cy="47.59" r="2.1" fill="#b8b8b8" stroke="#505050" stroke-width="0.85"/>
<circle cx="492.37" cy="46.53" r="2.1" fill="#b8b8b8" stroke="#505050" stroke-width="0.85"/>
<circle cx="493.62" cy="45.72" r="2.1" fill="#b8b8b8" stroke="#505050" stroke-width="0.85"/>
<circle cx="494.95" cy="45.03" r="2.1" fill="#b8b8b8" stroke="#505050" stroke-width="0.85"/>
<circle cx="496.02" cy="44.02" r="2.1" fill="#b8b8b8" stroke="#505050" stroke-width="0.85"/>
<circle cx="496.96" cy="42.85" r="2.1" fill="#b8b8b8" stroke="#505050" stroke-width="0.85"/>
<circle cx="497.90" cy="41.68" r="2.1" fill="#b8b8b8" stroke="#505050" stroke-width="0.85"/>
<circle cx="498.84" cy="40.52" r="2.1" fill="#b8b8b8" stroke="#505050" stroke-width="0.85"/>
<circle cx="499.80" cy="39.36" r="2.1" fill="#b8b8b8" stroke="#505050" stroke-width="0.85"/>
<circle cx="500.75" cy="38.20" r="2.1" fill="#b8b8b8" stroke="#505050" stroke-width="0.85"/>
<circle cx="501.78" cy="37.12" r="2.1" fill="#b8b8b8" stroke="#505050" stroke-width="0.85"/>
<circle cx="502.84" cy="36.06" r="2.1" fill="#b8b8b8" stroke="#505050" stroke-width="0.85"/>
<circle cx="503.92" cy="35.01" r="2.1" fill="#b8b8b8" stroke="#505050" stroke-width="0.85"/>
<circle cx="505.12" cy="34.11" r="2.1" fill="#b8b8b8" stroke="#505050" stroke-width="0.85"/>
<circle cx="506.32" cy="33.21" r="2.1" fill="#b8b8b8" stroke="#505050" stroke-width="0.85"/>
<circle cx="507.51" cy="32.29" r="2.1" fill="#b8b8b8" stroke="#505050" stroke-width="0.85"/>
<circle cx="508.69" cy="31.37" r="2.1" fill="#b8b8b8" stroke="#505050" stroke-width="0.85"/>
<circle cx="509.81" cy="30.39" r="2.1" fill="#b8b8b8" stroke="#505050" stroke-width="0.85"/>
<circle cx="510.88" cy="29.32" r="2.1" fill="#b8b8b8" stroke="#505050" stroke-width="0.85"/>
<circle cx="511.94" cy="28.26" r="2.1" fill="#b8b8b8" stroke="#505050" stroke-width="0.85"/>
<circle cx="513.01" cy="27.22" r="2.1" fill="#b8b8b8" stroke="#505050" stroke-width="0.85"/>
<circle cx="513.81" cy="25.99" r="2.1" fill="#b8b8b8" stroke="#505050" stroke-width="0.85"/>
<circle cx="514.37" cy="24.60" r="2.1" fill="#b8b8b8" stroke="#505050" stroke-width="0.85"/>
<circle cx="514.96" cy="23.22" r="2.1" fill="#b8b8b8" stroke="#505050" stroke-width="0.85"/>
<circle cx="515.86" cy="22.02" r="2.1" fill="#b8b8b8" stroke="#505050" stroke-width="0.85"/>
<circle cx="516.76" cy="20.82" r="2.1" fill="#b8b8b8" stroke="#505050" stroke-width="0.85"/>
<circle cx="517.49" cy="19.52" r="2.1" fill="#b8b8b8" stroke="#505050" stroke-width="0.85"/>
<circle cx="518.16" cy="18.17" r="2.1" fill="#b8b8b8" stroke="#505050" stroke-width="0.85"/>
<circle cx="518.83" cy="16.83" r="2.1" fill="#b8b8b8" stroke="#505050" stroke-width="0.85"/>
<circle cx="519.48" cy="15.48" r="2.1" fill="#b8b8b8" stroke="#505050" stroke-width="0.85"/>
<circle cx="520.14" cy="14.13" r="2.1" fill="#b8b8b8" stroke="#505050" stroke-width="0.85"/>
<circle cx="531.2" cy="9.7" r="2.3" fill="url(#gBlue)"/>
<circle cx="531.2" cy="20.5" r="2.3" fill="url(#gGray)"/>
<text x="540" y="12.4" font-size="7.4" fill="#222" text-anchor="start" font-weight="normal" stroke="#222" stroke-width="0.18"  style="">NiFe LDH/FeMoO||Y-NiMo/MoO<tspan dy="1.6" font-size="5">2−x</tspan></text>
<text x="540" y="23.2" font-size="7.4" fill="#222" text-anchor="start" font-weight="normal" stroke="#222" stroke-width="0.18"  style="">IrO<tspan dy="1.6" font-size="5">2</tspan><tspan dy="-1.6">||Pt/C</tspan></text>
<g id="pd">
<polygon points="1.7,232.5 32.7,201.5 152.7,201.5 152.7,319.5 121.7,350.5 1.7,350.5" fill="#d6e3ee"/>
<polygon points="1.7,232.5 32.7,201.5 152.7,201.5 152.7,226 32.7,226 1.7,257.5" fill="#f1f2f4"/>
<polygon points="1.7,232.5 32.7,201.5 32.7,226 1.7,257.5" fill="#f4f6f9"/>
<polygon points="121.7,232.5 152.7,201.5 152.7,226 121.7,257.5" fill="#d4dee8"/>
<polygon points="128.2,226 152.7,201.5 152.7,226" fill="#e4e5e7"/>
<polygon points="121.7,257.5 152.7,226 152.7,319.5 121.7,350.5" fill="#cad6e1"/>
<polyline points="1.7,232.5 32.7,201.5 152.7,201.5" fill="none" stroke="#dde2ec" stroke-width="0.7"/>
<line x1="1.7" y1="232.5" x2="121.7" y2="232.5" stroke="#e2e6ee" stroke-width="0.6"/>
<line x1="1.7" y1="257.5" x2="32.7" y2="226" stroke="#d0dce8" stroke-width="0.6"/>
<polygon points="46.7,265 86.7,226.1 86.7,318 46.7,350.5" fill="url(#memG)"/>
<polygon points="46.7,265 86.7,226.1 86.7,232.5 52.8,265.5" fill="#ffffff" opacity="0.0"/>
<polygon points="32.1,271.1 46.1,258.9 46.1,304.4 32.1,320" fill="#88b274"/>
<polygon points="32.1,271.1 34.2,271.1 34.2,319.5 32.1,320" fill="#a2c890"/>
<polygon points="32.1,271.1 46.1,258.9 46.1,260.6 34.2,271.1" fill="#b0d49c"/>
<polygon points="82.8,270.6 97.2,258.3 97.2,309.4 82.8,320.6" fill="#de9268"/>
<polygon points="82.8,270.6 84.9,270.6 84.9,320.2 82.8,320.6" fill="#eaac88"/>
<polygon points="82.8,270.6 97.2,258.3 97.2,260.1 84.9,270.6" fill="#f2bc9c"/>
<polyline points="39.4,266 39.4,191.7 170.6,191.7 170.6,253.5" fill="none" stroke="#7a7a7a" stroke-width="0.9"/>
<polyline points="91,265 91,198.5 162.8,198.5 162.8,257" fill="none" stroke="#7a7a7a" stroke-width="0.9"/>
<rect x="44.6" y="204.3" width="2.3" height="8.5" fill="#333"/>
<polygon points="42,211.9 49.9,211.9 45.75,219.5" fill="#333"/>
<rect x="97.05" y="209.5" width="2.3" height="9.4" fill="#333"/>
<polygon points="94.3,210.75 102.1,210.75 98.2,203.2" fill="#333"/>
<text x="40.8" y="228.2" font-size="11" fill="#222" text-anchor="start" font-weight="normal" stroke="#222" stroke-width="0.18"  style="font-style:italic">e</text>
<rect x="47" y="222" width="3.6" height="0.8" fill="#222"/>
<text x="94.5" y="228.2" font-size="11" fill="#222" text-anchor="start" font-weight="normal" stroke="#222" stroke-width="0.18"  style="font-style:italic">e</text>
<rect x="100.7" y="222" width="3.6" height="0.8" fill="#222"/>
<text x="17.6" y="246.8" font-size="10.5" fill="#222" text-anchor="start" font-weight="normal" stroke="#222" stroke-width="0.18"  style="">H</text>
<text x="25.3" y="249.2" font-size="6.5" fill="#222" text-anchor="start" font-weight="normal" stroke="#222" stroke-width="0.18"  style="">2</text>
<text x="100.6" y="247.4" font-size="10.5" fill="#222" text-anchor="start" font-weight="normal" stroke="#222" stroke-width="0.18"  style="">O</text>
<text x="108.6" y="249.2" font-size="6.5" fill="#222" text-anchor="start" font-weight="normal" stroke="#222" stroke-width="0.18"  style="">2</text>
<polygon points="154.3,266 160.1,266 174.5,251.7 168.7,251.7" fill="#b4c4ee"/>
<rect x="154.3" y="266" width="5.8" height="53.4" fill="url(#solB)"/>
<polygon points="160.1,265.5 165,265.5 179.4,251.7 174.5,251.7" fill="#f4f0a0"/>
<rect x="160.1" y="265.5" width="4.9" height="53.9" fill="#f8f23a"/>
<polygon points="165,265.5 179.4,251.7 179.4,305 165,319.4" fill="url(#solS)"/>
<polygon points="181.7,286.1 191.7,271.2 191.7,277.2 201,277.2 201,294.3 191.7,294.3 191.7,300.6" fill="url(#rainbow)"/>
<text x="184.6" y="266.4" font-size="11.6" fill="#222" text-anchor="start" font-weight="normal" stroke="#222" stroke-width="0.18"  style="font-style:italic">hv</text>
<text x="6.6" y="332" font-size="9.3" fill="#222" text-anchor="start" font-weight="normal" stroke="#222" stroke-width="0.18"  style="">Y-NiMo/</text>
<text x="6.6" y="343.3" font-size="9.3" fill="#222" text-anchor="start" font-weight="normal" stroke="#222" stroke-width="0.18"  style="">MoO<tspan dy="2" font-size="6.8">2-x</tspan></text>
<text x="75.3" y="331.7" font-size="9.3" fill="#222" text-anchor="start" font-weight="normal" stroke="#222" stroke-width="0.18"  style="">NiFe LDH/</text>
<text x="75.3" y="343" font-size="9.3" fill="#222" text-anchor="start" font-weight="normal" stroke="#222" stroke-width="0.18"  style="">FeMoO</text>
<text x="151.8" y="331.7" font-size="9.3" fill="#222" text-anchor="start" font-weight="normal" stroke="#222" stroke-width="0.18"  style="">Tandem</text>
<text x="151" y="342.2" font-size="9.3" fill="#222" text-anchor="start" font-weight="normal" stroke="#222" stroke-width="0.18"  style="">solar cell</text>
</g>
<rect x="252.3" y="191.5" width="179.39999999999998" height="144.0" fill="none" stroke="#444" stroke-width="1"/>
<line x1="252.30" y1="335.5" x2="252.30" y2="332.9" stroke="#3a3a3a" stroke-width="0.8"/>
<line x1="274.73" y1="335.5" x2="274.73" y2="333.9" stroke="#3a3a3a" stroke-width="0.8"/>
<line x1="297.15" y1="335.5" x2="297.15" y2="332.9" stroke="#3a3a3a" stroke-width="0.8"/>
<line x1="319.57" y1="335.5" x2="319.57" y2="333.9" stroke="#3a3a3a" stroke-width="0.8"/>
<line x1="342.00" y1="335.5" x2="342.00" y2="332.9" stroke="#3a3a3a" stroke-width="0.8"/>
<line x1="364.43" y1="335.5" x2="364.43" y2="333.9" stroke="#3a3a3a" stroke-width="0.8"/>
<line x1="386.85" y1="335.5" x2="386.85" y2="332.9" stroke="#3a3a3a" stroke-width="0.8"/>
<line x1="409.27" y1="335.5" x2="409.27" y2="333.9" stroke="#3a3a3a" stroke-width="0.8"/>
<line x1="431.70" y1="335.5" x2="431.70" y2="332.9" stroke="#3a3a3a" stroke-width="0.8"/>
<line x1="252.3" y1="335.50" x2="254.9" y2="335.50" stroke="#3a3a3a" stroke-width="0.8"/>
<line x1="252.3" y1="311.50" x2="253.9" y2="311.50" stroke="#3a3a3a" stroke-width="0.8"/>
<line x1="252.3" y1="287.50" x2="254.9" y2="287.50" stroke="#3a3a3a" stroke-width="0.8"/>
<line x1="252.3" y1="263.50" x2="253.9" y2="263.50" stroke="#3a3a3a" stroke-width="0.8"/>
<line x1="252.3" y1="239.50" x2="254.9" y2="239.50" stroke="#3a3a3a" stroke-width="0.8"/>
<line x1="252.3" y1="215.50" x2="253.9" y2="215.50" stroke="#3a3a3a" stroke-width="0.8"/>
<line x1="252.3" y1="191.50" x2="254.9" y2="191.50" stroke="#3a3a3a" stroke-width="0.8"/>
<text x="252.30" y="345.5" font-size="8.6" fill="#333" text-anchor="middle" font-weight="normal" stroke="#333" stroke-width="0.18"  style="letter-spacing:-0.2px">0.0</text>
<text x="297.15" y="345.5" font-size="8.6" fill="#333" text-anchor="middle" font-weight="normal" stroke="#333" stroke-width="0.18"  style="letter-spacing:-0.2px">0.5</text>
<text x="342.00" y="345.5" font-size="8.6" fill="#333" text-anchor="middle" font-weight="normal" stroke="#333" stroke-width="0.18"  style="letter-spacing:-0.2px">1.0</text>
<text x="386.85" y="345.5" font-size="8.6" fill="#333" text-anchor="middle" font-weight="normal" stroke="#333" stroke-width="0.18"  style="letter-spacing:-0.2px">1.5</text>
<text x="431.70" y="345.5" font-size="8.6" fill="#333" text-anchor="middle" font-weight="normal" stroke="#333" stroke-width="0.18"  style="letter-spacing:-0.2px">2.0</text>
<text x="249.2" y="338.20" font-size="8.6" fill="#333" text-anchor="end" font-weight="normal" stroke="#333" stroke-width="0.18"  style="letter-spacing:-0.2px">5</text>
<text x="249.2" y="290.20" font-size="8.6" fill="#333" text-anchor="end" font-weight="normal" stroke="#333" stroke-width="0.18"  style="letter-spacing:-0.2px">10</text>
<text x="249.2" y="242.20" font-size="8.6" fill="#333" text-anchor="end" font-weight="normal" stroke="#333" stroke-width="0.18"  style="letter-spacing:-0.2px">15</text>
<text x="249.2" y="194.20" font-size="8.6" fill="#333" text-anchor="end" font-weight="normal" stroke="#333" stroke-width="0.18"  style="letter-spacing:-0.2px">20</text>
<text x="342" y="357.3" font-size="11" fill="#222" text-anchor="middle" font-weight="normal" stroke="#222" stroke-width="0.18"  style="">Voltage (V)</text>
<g transform="translate(236.2,263.3) rotate(-90)"><text x="0" y="0" font-size="11" fill="#222" text-anchor="middle" font-weight="normal" stroke="#222" stroke-width="0.18"  style="">Current density (mA cm<tspan dy="-4.3" font-size="8">−2</tspan><tspan dy="4.3">)</tspan></text></g>
<path d="M252.30,215.50 C260.25,215.55 285.38,215.62 300.00,215.80 C314.62,215.98 330.00,216.18 340.00,216.60 C350.00,217.02 354.67,217.63 360.00,218.30 C365.33,218.97 368.65,219.83 372.00,220.60 C375.35,221.37 377.93,222.12 380.10,222.90 C382.27,223.68 383.68,224.45 385.00,225.30 C386.32,226.15 387.00,226.88 388.00,228.00 C389.00,229.12 390.08,230.50 391.00,232.00 C391.92,233.50 392.50,234.67 393.50,237.00 C394.50,239.33 395.80,241.50 397.00,246.00 C398.20,250.50 399.48,258.00 400.70,264.00 C401.92,270.00 403.28,276.00 404.30,282.00 C405.32,288.00 406.02,294.00 406.80,300.00 C407.58,306.00 408.42,312.08 409.00,318.00 C409.58,323.92 410.08,332.58 410.30,335.50" fill="none" stroke="#333" stroke-width="1.1"/>
<path d="M378.2,335.5 C379.5,310 380.6,280 381.1,250 C381.3,230 381.3,210 381.3,191.2" fill="none" stroke="#4a90f0" stroke-width="1.1"/>
<circle cx="381.2" cy="223.6" r="1.6" fill="none" stroke="#f04040" stroke-width="0.8"/>
<path d="M385,226 l2,1.5 M385,227.5 l2,-1.5" stroke="#888" stroke-width="0.7"/>
<line x1="359.5" y1="222.3" x2="378" y2="223.5" stroke="#f04040" stroke-width="0.8"/>
<polygon points="379.5,223.6 374.5,221.7 374.5,225.3" fill="#f04040"/>
<line x1="359.5" y1="232.6" x2="378" y2="229" stroke="#707070" stroke-width="0.8"/>
<polygon points="380,228.6 374.6,227.9 375.3,231.3" fill="#707070"/>
<text x="275.3" y="225.2" font-size="7.4" fill="#f04848" text-anchor="start" font-weight="normal" stroke="#f04848" stroke-width="0.18"  style="">16.59 mA cm<tspan dy="-2.6" font-size="5.6">−2</tspan><tspan dy="2.6">@1.435 V</tspan></text>
<text x="275.3" y="235.4" font-size="7.4" fill="#767676" text-anchor="start" font-weight="normal" stroke="#767676" stroke-width="0.18"  style="">16.19 mA cm<tspan dy="-2.6" font-size="5.6">−2</tspan><tspan dy="2.6">@1.486 V</tspan></text>
<line x1="257" y1="198.2" x2="273" y2="198.2" stroke="#4a90f0" stroke-width="1.1"/>
<line x1="257" y1="207.5" x2="273" y2="207.5" stroke="#333" stroke-width="1.1"/>
<text x="275.5" y="200.9" font-size="7.4" fill="#222" text-anchor="start" font-weight="normal" stroke="#222" stroke-width="0.18"  style="">Water splitting</text>
<text x="275.5" y="209.5" font-size="7.4" fill="#222" text-anchor="start" font-weight="normal" stroke="#222" stroke-width="0.18"  style="">Tandem cell</text>
<line x1="479.5" y1="191.5" x2="658.5" y2="191.5" stroke="#333" stroke-width="1"/>
<line x1="479.5" y1="336.2" x2="658.5" y2="336.2" stroke="#333" stroke-width="1"/>
<line x1="479.5" y1="191.5" x2="479.5" y2="336.2" stroke="#5a96ee" stroke-width="1"/>
<line x1="658.5" y1="191.5" x2="658.5" y2="336.2" stroke="#f3a0a0" stroke-width="1"/>
<line x1="479.50" y1="336.2" x2="479.50" y2="333.59999999999997" stroke="#333" stroke-width="0.8"/>
<line x1="479.50" y1="191.5" x2="479.50" y2="194.1" stroke="#333" stroke-width="0.8"/>
<line x1="509.33" y1="336.2" x2="509.33" y2="334.59999999999997" stroke="#333" stroke-width="0.8"/>
<line x1="509.33" y1="191.5" x2="509.33" y2="193.1" stroke="#333" stroke-width="0.8"/>
<line x1="539.17" y1="336.2" x2="539.17" y2="333.59999999999997" stroke="#333" stroke-width="0.8"/>
<line x1="539.17" y1="191.5" x2="539.17" y2="194.1" stroke="#333" stroke-width="0.8"/>
<line x1="569.00" y1="336.2" x2="569.00" y2="334.59999999999997" stroke="#333" stroke-width="0.8"/>
<line x1="569.00" y1="191.5" x2="569.00" y2="193.1" stroke="#333" stroke-width="0.8"/>
<line x1="598.83" y1="336.2" x2="598.83" y2="333.59999999999997" stroke="#333" stroke-width="0.8"/>
<line x1="598.83" y1="191.5" x2="598.83" y2="194.1" stroke="#333" stroke-width="0.8"/>
<line x1="628.67" y1="336.2" x2="628.67" y2="334.59999999999997" stroke="#333" stroke-width="0.8"/>
<line x1="628.67" y1="191.5" x2="628.67" y2="193.1" stroke="#333" stroke-width="0.8"/>
<line x1="658.50" y1="336.2" x2="658.50" y2="333.59999999999997" stroke="#333" stroke-width="0.8"/>
<line x1="658.50" y1="191.5" x2="658.50" y2="194.1" stroke="#333" stroke-width="0.8"/>
<line x1="479.5" y1="328.96" x2="481.1" y2="328.96" stroke="#5a96ee" stroke-width="0.8"/>
<line x1="479.5" y1="307.26" x2="482.1" y2="307.26" stroke="#5a96ee" stroke-width="0.8"/>
<line x1="479.5" y1="285.56" x2="481.1" y2="285.56" stroke="#5a96ee" stroke-width="0.8"/>
<line x1="479.5" y1="263.85" x2="482.1" y2="263.85" stroke="#5a96ee" stroke-width="0.8"/>
<line x1="479.5" y1="242.14" x2="481.1" y2="242.14" stroke="#5a96ee" stroke-width="0.8"/>
<line x1="479.5" y1="220.44" x2="482.1" y2="220.44" stroke="#5a96ee" stroke-width="0.8"/>
<line x1="479.5" y1="198.74" x2="481.1" y2="198.74" stroke="#5a96ee" stroke-width="0.8"/>
<line x1="658.5" y1="336.20" x2="655.9" y2="336.20" stroke="#f3a0a0" stroke-width="0.8"/>
<line x1="658.5" y1="312.08" x2="656.9" y2="312.08" stroke="#f3a0a0" stroke-width="0.8"/>
<line x1="658.5" y1="287.97" x2="655.9" y2="287.97" stroke="#f3a0a0" stroke-width="0.8"/>
<line x1="658.5" y1="263.85" x2="656.9" y2="263.85" stroke="#f3a0a0" stroke-width="0.8"/>
<line x1="658.5" y1="239.73" x2="655.9" y2="239.73" stroke="#f3a0a0" stroke-width="0.8"/>
<line x1="658.5" y1="215.62" x2="656.9" y2="215.62" stroke="#f3a0a0" stroke-width="0.8"/>
<line x1="658.5" y1="191.50" x2="655.9" y2="191.50" stroke="#f3a0a0" stroke-width="0.8"/>
<text x="479.50" y="345.5" font-size="8.6" fill="#333" text-anchor="middle" font-weight="normal" stroke="#333" stroke-width="0.18"  style="letter-spacing:-0.2px">0</text>
<text x="539.17" y="345.5" font-size="8.6" fill="#333" text-anchor="middle" font-weight="normal" stroke="#333" stroke-width="0.18"  style="letter-spacing:-0.2px">10</text>
<text x="598.83" y="345.5" font-size="8.6" fill="#333" text-anchor="middle" font-weight="normal" stroke="#333" stroke-width="0.18"  style="letter-spacing:-0.2px">20</text>
<text x="658.50" y="345.5" font-size="8.6" fill="#333" text-anchor="middle" font-weight="normal" stroke="#333" stroke-width="0.18"  style="letter-spacing:-0.2px">30</text>
<text x="476.7" y="309.96" font-size="8.6" fill="#5a96ee" text-anchor="end" font-weight="normal" stroke="#5a96ee" stroke-width="0.18"  style="letter-spacing:-0.2px">0</text>
<text x="476.7" y="266.55" font-size="8.6" fill="#5a96ee" text-anchor="end" font-weight="normal" stroke="#5a96ee" stroke-width="0.18"  style="letter-spacing:-0.2px">30</text>
<text x="476.7" y="223.14" font-size="8.6" fill="#5a96ee" text-anchor="end" font-weight="normal" stroke="#5a96ee" stroke-width="0.18"  style="letter-spacing:-0.2px">60</text>
<text x="661.5" y="338.90" font-size="8.6" fill="#f07070" text-anchor="start" font-weight="normal" stroke="#f07070" stroke-width="0.18"  style="letter-spacing:-0.2px">0</text>
<text x="661.5" y="290.67" font-size="8.6" fill="#f07070" text-anchor="start" font-weight="normal" stroke="#f07070" stroke-width="0.18"  style="letter-spacing:-0.2px">10</text>
<text x="661.5" y="242.43" font-size="8.6" fill="#f07070" text-anchor="start" font-weight="normal" stroke="#f07070" stroke-width="0.18"  style="letter-spacing:-0.2px">20</text>
<text x="661.5" y="194.20" font-size="8.6" fill="#f07070" text-anchor="start" font-weight="normal" stroke="#f07070" stroke-width="0.18"  style="letter-spacing:-0.2px">30</text>
<text x="569" y="357.3" font-size="11" fill="#222" text-anchor="middle" font-weight="normal" stroke="#222" stroke-width="0.18"  style="">Time (h)</text>
<g transform="translate(464,263.3) rotate(-90)"><text x="0" y="0" font-size="11" fill="#5a96ee" text-anchor="middle" font-weight="normal" stroke="#5a96ee" stroke-width="0.18"  style="">Current density (mA cm<tspan dy="-4.3" font-size="8">−2</tspan><tspan dy="4.3">)</tspan></text></g>
<g transform="translate(681.5,263.3) rotate(-90)"><text x="0" y="0" font-size="11" fill="#f07070" text-anchor="middle" font-weight="normal" stroke="#f07070" stroke-width="0.18"  style="">STH (%)</text></g>
<circle cx="481.50" cy="283.39" r="1.75" fill="#dce9fc" stroke="#5a96ee" stroke-width="1.1"/>
<circle cx="484.10" cy="283.37" r="1.75" fill="#dce9fc" stroke="#5a96ee" stroke-width="1.1"/>
<circle cx="486.70" cy="283.35" r="1.75" fill="#dce9fc" stroke="#5a96ee" stroke-width="1.1"/>
<circle cx="489.30" cy="283.33" r="1.75" fill="#dce9fc" stroke="#5a96ee" stroke-width="1.1"/>
<circle cx="491.90" cy="283.31" r="1.75" fill="#dce9fc" stroke="#5a96ee" stroke-width="1.1"/>
<circle cx="494.50" cy="283.29" r="1.75" fill="#dce9fc" stroke="#5a96ee" stroke-width="1.1"/>
<circle cx="497.10" cy="283.27" r="1.75" fill="#dce9fc" stroke="#5a96ee" stroke-width="1.1"/>
<circle cx="499.70" cy="283.25" r="1.75" fill="#dce9fc" stroke="#5a96ee" stroke-width="1.1"/>
<circle cx="502.30" cy="283.23" r="1.75" fill="#dce9fc" stroke="#5a96ee" stroke-width="1.1"/>
<circle cx="504.90" cy="283.21" r="1.75" fill="#dce9fc" stroke="#5a96ee" stroke-width="1.1"/>
<circle cx="507.50" cy="283.19" r="1.75" fill="#dce9fc" stroke="#5a96ee" stroke-width="1.1"/>
<circle cx="510.10" cy="283.17" r="1.75" fill="#dce9fc" stroke="#5a96ee" stroke-width="1.1"/>
<circle cx="512.70" cy="283.15" r="1.75" fill="#dce9fc" stroke="#5a96ee" stroke-width="1.1"/>
<circle cx="515.30" cy="283.13" r="1.75" fill="#dce9fc" stroke="#5a96ee" stroke-width="1.1"/>
<circle cx="517.90" cy="283.12" r="1.75" fill="#dce9fc" stroke="#5a96ee" stroke-width="1.1"/>
<circle cx="520.50" cy="283.09" r="1.75" fill="#dce9fc" stroke="#5a96ee" stroke-width="1.1"/>
<circle cx="523.10" cy="283.05" r="1.75" fill="#dce9fc" stroke="#5a96ee" stroke-width="1.1"/>
<circle cx="525.70" cy="283.01" r="1.75" fill="#dce9fc" stroke="#5a96ee" stroke-width="1.1"/>
<circle cx="528.30" cy="282.98" r="1.75" fill="#dce9fc" stroke="#5a96ee" stroke-width="1.1"/>
<circle cx="530.90" cy="282.94" r="1.75" fill="#dce9fc" stroke="#5a96ee" stroke-width="1.1"/>
<circle cx="533.50" cy="282.90" r="1.75" fill="#dce9fc" stroke="#5a96ee" stroke-width="1.1"/>
<circle cx="536.10" cy="282.86" r="1.75" fill="#dce9fc" stroke="#5a96ee" stroke-width="1.1"/>
<circle cx="538.70" cy="282.82" r="1.75" fill="#dce9fc" stroke="#5a96ee" stroke-width="1.1"/>
<circle cx="541.30" cy="282.78" r="1.75" fill="#dce9fc" stroke="#5a96ee" stroke-width="1.1"/>
<circle cx="543.90" cy="282.74" r="1.75" fill="#dce9fc" stroke="#5a96ee" stroke-width="1.1"/>
<circle cx="546.50" cy="282.70" r="1.75" fill="#dce9fc" stroke="#5a96ee" stroke-width="1.1"/>
<circle cx="549.10" cy="282.66" r="1.75" fill="#dce9fc" stroke="#5a96ee" stroke-width="1.1"/>
<circle cx="551.70" cy="282.62" r="1.75" fill="#dce9fc" stroke="#5a96ee" stroke-width="1.1"/>
<circle cx="554.30" cy="282.59" r="1.75" fill="#dce9fc" stroke="#5a96ee" stroke-width="1.1"/>
<circle cx="556.90" cy="282.55" r="1.75" fill="#dce9fc" stroke="#5a96ee" stroke-width="1.1"/>
<circle cx="559.50" cy="282.51" r="1.75" fill="#dce9fc" stroke="#5a96ee" stroke-width="1.1"/>
<circle cx="562.10" cy="282.53" r="1.75" fill="#dce9fc" stroke="#5a96ee" stroke-width="1.1"/>
<circle cx="564.70" cy="282.57" r="1.75" fill="#dce9fc" stroke="#5a96ee" stroke-width="1.1"/>
<circle cx="567.30" cy="282.61" r="1.75" fill="#dce9fc" stroke="#5a96ee" stroke-width="1.1"/>
<circle cx="569.90" cy="282.65" r="1.75" fill="#dce9fc" stroke="#5a96ee" stroke-width="1.1"/>
<circle cx="572.50" cy="282.69" r="1.75" fill="#dce9fc" stroke="#5a96ee" stroke-width="1.1"/>
<circle cx="575.10" cy="282.73" r="1.75" fill="#dce9fc" stroke="#5a96ee" stroke-width="1.1"/>
<circle cx="577.70" cy="282.77" r="1.75" fill="#dce9fc" stroke="#5a96ee" stroke-width="1.1"/>
<circle cx="580.30" cy="282.80" r="1.75" fill="#dce9fc" stroke="#5a96ee" stroke-width="1.1"/>
<circle cx="582.90" cy="282.84" r="1.75" fill="#dce9fc" stroke="#5a96ee" stroke-width="1.1"/>
<circle cx="585.50" cy="282.88" r="1.75" fill="#dce9fc" stroke="#5a96ee" stroke-width="1.1"/>
<circle cx="588.10" cy="282.92" r="1.75" fill="#dce9fc" stroke="#5a96ee" stroke-width="1.1"/>
<circle cx="590.70" cy="282.96" r="1.75" fill="#dce9fc" stroke="#5a96ee" stroke-width="1.1"/>
<circle cx="593.30" cy="283.00" r="1.75" fill="#dce9fc" stroke="#5a96ee" stroke-width="1.1"/>
<circle cx="595.90" cy="283.04" r="1.75" fill="#dce9fc" stroke="#5a96ee" stroke-width="1.1"/>
<circle cx="598.50" cy="283.08" r="1.75" fill="#dce9fc" stroke="#5a96ee" stroke-width="1.1"/>
<circle cx="601.10" cy="283.11" r="1.75" fill="#dce9fc" stroke="#5a96ee" stroke-width="1.1"/>
<circle cx="603.70" cy="283.13" r="1.75" fill="#dce9fc" stroke="#5a96ee" stroke-width="1.1"/>
<circle cx="606.30" cy="283.14" r="1.75" fill="#dce9fc" stroke="#5a96ee" stroke-width="1.1"/>
<circle cx="608.90" cy="283.16" r="1.75" fill="#dce9fc" stroke="#5a96ee" stroke-width="1.1"/>
<circle cx="611.50" cy="283.18" r="1.75" fill="#dce9fc" stroke="#5a96ee" stroke-width="1.1"/>
<circle cx="614.10" cy="283.20" r="1.75" fill="#dce9fc" stroke="#5a96ee" stroke-width="1.1"/>
<circle cx="616.70" cy="283.21" r="1.75" fill="#dce9fc" stroke="#5a96ee" stroke-width="1.1"/>
<circle cx="619.30" cy="283.23" r="1.75" fill="#dce9fc" stroke="#5a96ee" stroke-width="1.1"/>
<circle cx="621.90" cy="283.25" r="1.75" fill="#dce9fc" stroke="#5a96ee" stroke-width="1.1"/>
<circle cx="624.50" cy="283.27" r="1.75" fill="#dce9fc" stroke="#5a96ee" stroke-width="1.1"/>
<circle cx="627.10" cy="283.29" r="1.75" fill="#dce9fc" stroke="#5a96ee" stroke-width="1.1"/>
<circle cx="629.70" cy="283.30" r="1.75" fill="#dce9fc" stroke="#5a96ee" stroke-width="1.1"/>
<circle cx="632.30" cy="283.32" r="1.75" fill="#dce9fc" stroke="#5a96ee" stroke-width="1.1"/>
<circle cx="634.90" cy="283.34" r="1.75" fill="#dce9fc" stroke="#5a96ee" stroke-width="1.1"/>
<circle cx="637.50" cy="283.36" r="1.75" fill="#dce9fc" stroke="#5a96ee" stroke-width="1.1"/>
<circle cx="640.10" cy="283.37" r="1.75" fill="#dce9fc" stroke="#5a96ee" stroke-width="1.1"/>
<circle cx="642.70" cy="283.39" r="1.75" fill="#dce9fc" stroke="#5a96ee" stroke-width="1.1"/>
<circle cx="645.30" cy="283.41" r="1.75" fill="#dce9fc" stroke="#5a96ee" stroke-width="1.1"/>
<circle cx="647.90" cy="283.43" r="1.75" fill="#dce9fc" stroke="#5a96ee" stroke-width="1.1"/>
<circle cx="650.50" cy="283.45" r="1.75" fill="#dce9fc" stroke="#5a96ee" stroke-width="1.1"/>
<circle cx="653.10" cy="283.46" r="1.75" fill="#dce9fc" stroke="#5a96ee" stroke-width="1.1"/>
<circle cx="655.70" cy="283.48" r="1.75" fill="#dce9fc" stroke="#5a96ee" stroke-width="1.1"/>
<line x1="486" y1="291.6" x2="509.3" y2="291.6" stroke="#5a96ee" stroke-width="0.8"/>
<polygon points="483,291.6 488,289.8 488,293.4" fill="#5a96ee"/>
<circle cx="491.43" cy="238.90" r="2.5" fill="url(#gRed)" clip-path="url(#clipF)"/>
<circle cx="503.37" cy="238.40" r="2.5" fill="url(#gRed)" clip-path="url(#clipF)"/>
<circle cx="515.30" cy="239.00" r="2.5" fill="url(#gRed)" clip-path="url(#clipF)"/>
<circle cx="527.23" cy="238.30" r="2.5" fill="url(#gRed)" clip-path="url(#clipF)"/>
<circle cx="539.17" cy="238.60" r="2.5" fill="url(#gRed)" clip-path="url(#clipF)"/>
<circle cx="551.10" cy="238.20" r="2.5" fill="url(#gRed)" clip-path="url(#clipF)"/>
<circle cx="563.03" cy="238.70" r="2.5" fill="url(#gRed)" clip-path="url(#clipF)"/>
<circle cx="574.97" cy="238.40" r="2.5" fill="url(#gRed)" clip-path="url(#clipF)"/>
<circle cx="586.90" cy="238.90" r="2.5" fill="url(#gRed)" clip-path="url(#clipF)"/>
<circle cx="598.83" cy="238.60" r="2.5" fill="url(#gRed)" clip-path="url(#clipF)"/>
<circle cx="610.77" cy="238.50" r="2.5" fill="url(#gRed)" clip-path="url(#clipF)"/>
<circle cx="622.70" cy="238.80" r="2.5" fill="url(#gRed)" clip-path="url(#clipF)"/>
<circle cx="634.63" cy="238.90" r="2.5" fill="url(#gRed)" clip-path="url(#clipF)"/>
<circle cx="646.57" cy="238.70" r="2.5" fill="url(#gRed)" clip-path="url(#clipF)"/>
<circle cx="658.50" cy="239.00" r="2.5" fill="url(#gRed)" clip-path="url(#clipF)"/>
<text x="537.5" y="232.6" font-size="7.4" fill="#f07070" text-anchor="start" font-weight="normal" stroke="#f07070" stroke-width="0.18"  style="">Average STH: 20.15%</text>
<line x1="633.7" y1="229.2" x2="655" y2="229.2" stroke="#f07070" stroke-width="0.8"/>
<polygon points="658.3,229.2 653.3,227.4 653.3,231" fill="#f07070"/>
<text x="2.5" y="15.3" font-size="15" fill="#000" text-anchor="start" font-weight="bold"  style="">a</text><text x="225.6" y="11" font-size="15" fill="#000" text-anchor="start" font-weight="bold"  style="">b</text><text x="454" y="11.2" font-size="15" fill="#000" text-anchor="start" font-weight="bold"  style="">c</text><text x="2.6" y="196.5" font-size="15" fill="#000" text-anchor="start" font-weight="bold"  style="">d</text><text x="225.3" y="196.2" font-size="15" fill="#000" text-anchor="start" font-weight="bold"  style="">e</text><text x="455.3" y="195.8" font-size="15" fill="#000" text-anchor="start" font-weight="bold"  style="">f</text>
</svg>
</body></html>
